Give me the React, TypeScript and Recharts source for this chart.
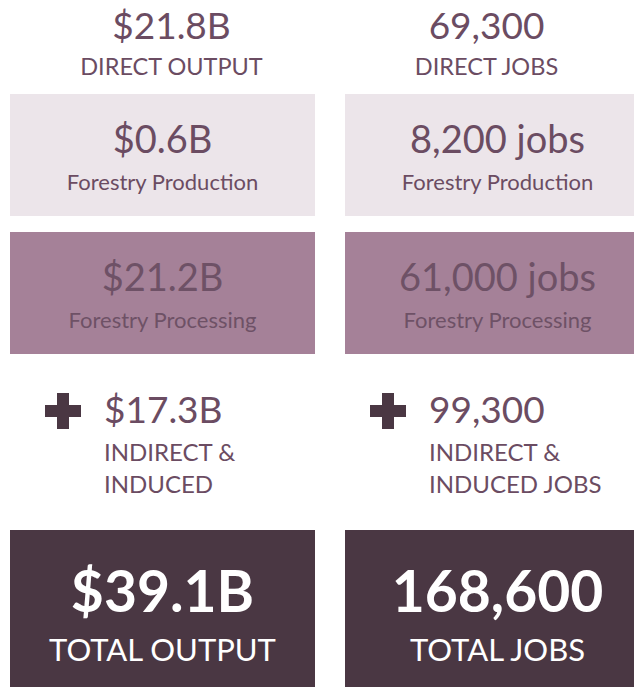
import React from "react";
import { BarChart, Bar, XAxis, YAxis } from "recharts";

// two columns of figures: economic output and employment
const COLUMNS = ["output", "jobs"];

const DIRECT_VALUES = [21.8, 69300];
const DIRECT_LABELS = ["DIRECT OUTPUT", "DIRECT JOBS"];

const PRODUCTION_VALUES = [0.6, 8200];
const PRODUCTION_LABELS = ["Forestry Production", "Forestry Production"];

const PROCESSING_VALUES = [21.2, 61000];
const PROCESSING_LABELS = ["Forestry Processing", "Forestry Processing"];

const INDIRECT_VALUES = [17.3, 99300];
const INDIRECT_LABELS = [
  ["INDIRECT &", "INDUCED"],
  ["INDIRECT &", "INDUCED JOBS"],
];

const TOTAL_VALUES = [39.1, 168600];
const TOTAL_LABELS = ["TOTAL OUTPUT", "TOTAL JOBS"];

const FONT = "Lato, 'Noto Sans', sans-serif";
const TEXT = "#6b4c62";
const LIGHT = "#ece5ea";
const MID = "#a58198";
const MID_TEXT = "#6e5166";
const DARK = "#4a3743";

type Variant = "header" | "light" | "mid" | "indirect" | "total";

function formatValue(column: string, v: number, withJobs: boolean): string {
  if (column === "output") return `$${v.toFixed(1)}B`;
  return v.toLocaleString("en-US") + (withJobs ? " jobs" : "");
}

// small per-column nudges so the text sits where the original layout put it
const HEADER_SHIFT = [9, -11];
const INDIRECT_SHIFT = [0, -10];

function makeShape(variant: Variant, rowHeight: number) {
  return function CardShape(props: any) {
    const bg = props.background || { x: props.x, y: 0, width: props.width, height: rowHeight };
    const i = props.index ?? 0;
    const d = props.payload || {};
    const cx = bg.x + bg.width / 2;
    const top = bg.y;

    if (variant === "header") {
      const x = cx + HEADER_SHIFT[i];
      return (
        <g>
          <text x={x} y={top + 39} textAnchor="middle" fontFamily={FONT} fontSize={37} fill={TEXT}>
            {d.display}
          </text>
          <text x={x} y={top + 75} textAnchor="middle" fontFamily={FONT} fontSize={23.5} fill={TEXT}>
            {d.labels[0]}
          </text>
        </g>
      );
    }

    if (variant === "light" || variant === "mid") {
      const fill = variant === "light" ? LIGHT : MID;
      const color = variant === "light" ? TEXT : MID_TEXT;
      return (
        <g>
          <rect x={bg.x} y={top} width={bg.width} height={bg.height} fill={fill} />
          <text x={cx} y={top + 59} textAnchor="middle" fontFamily={FONT} fontSize={38} fill={color}>
            {d.display}
          </text>
          <text x={cx} y={top + 96} textAnchor="middle" fontFamily={FONT} fontSize={22} fill={color}>
            {d.labels[0]}
          </text>
        </g>
      );
    }

    if (variant === "indirect") {
      const px = bg.x + 53 + INDIRECT_SHIFT[i];
      const tx = bg.x + 94 + INDIRECT_SHIFT[i];
      const py = top + 57;
      return (
        <g>
          <rect x={px - 18} y={py - 6} width={36} height={12} fill={DARK} />
          <rect x={px - 6} y={py - 18} width={12} height={36} fill={DARK} />
          <text x={tx} y={top + 69} fontFamily={FONT} fontSize={37} fill={TEXT}>
            {d.display}
          </text>
          <text x={tx} y={top + 107} fontFamily={FONT} fontSize={24} fill={TEXT}>
            {d.labels[0]}
          </text>
          <text x={tx} y={top + 139} fontFamily={FONT} fontSize={24} fill={TEXT}>
            {d.labels[1]}
          </text>
        </g>
      );
    }

    return (
      <g>
        <rect x={bg.x} y={top} width={bg.width} height={bg.height} fill={DARK} />
        <text x={cx} y={top + 82} textAnchor="middle" fontFamily={FONT} fontSize={57} fontWeight={700} fill="#ffffff">
          {d.display}
        </text>
        <text x={cx} y={top + 131} textAnchor="middle" fontFamily={FONT} fontSize={31} fill="#ffffff">
          {d.labels[0]}
        </text>
      </g>
    );
  };
}

function Row({
  top,
  height,
  values,
  labels,
  variant,
  withJobs = false,
}: {
  top: number;
  height: number;
  values: number[];
  labels: (string | string[])[];
  variant: Variant;
  withJobs?: boolean;
}) {
  const data = COLUMNS.map((column, i) => ({
    column,
    value: values[i],
    display: formatValue(column, values[i], withJobs),
    labels: Array.isArray(labels[i]) ? labels[i] : [labels[i]],
  }));

  return (
    <div style={{ position: "absolute", left: -5, top }}>
      <BarChart width={670} height={height} data={data} margin={{ top: 0, right: 0, bottom: 0, left: 0 }} barCategoryGap={15}>
        <XAxis dataKey="column" hide />
        <YAxis hide />
        <Bar dataKey="value" minPointSize={1} isAnimationActive={false} shape={makeShape(variant, height)} />
      </BarChart>
    </div>
  );
}

export default function App() {
  return (
    <div style={{ position: "fixed", left: 0, top: 0, width: 634, height: 687, overflow: "hidden", background: "#fff" }}>
      <Row top={0} height={94} values={DIRECT_VALUES} labels={DIRECT_LABELS} variant="header" />
      <Row top={94} height={122} values={PRODUCTION_VALUES} labels={PRODUCTION_LABELS} variant="light" withJobs />
      <Row top={232} height={122} values={PROCESSING_VALUES} labels={PROCESSING_LABELS} variant="mid" withJobs />
      <Row top={354} height={176} values={INDIRECT_VALUES} labels={INDIRECT_LABELS} variant="indirect" />
      <Row top={530} height={157} values={TOTAL_VALUES} labels={TOTAL_LABELS} variant="total" />
    </div>
  );
}
